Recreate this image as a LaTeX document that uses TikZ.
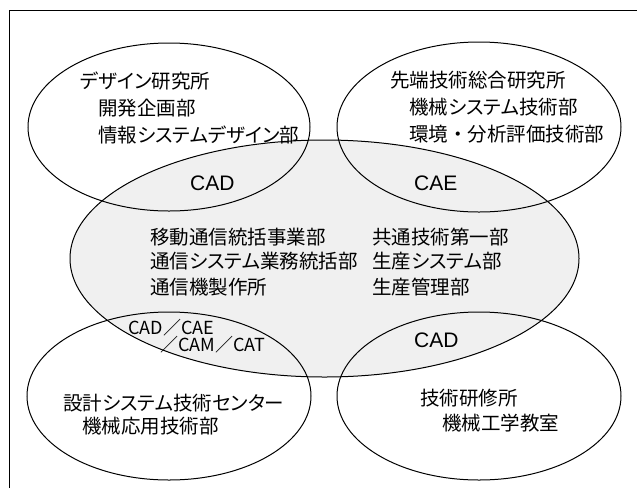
\documentclass[tikz,border=0pt]{standalone}
\usepackage{fontspec}
\newfontfamily\jp[RawFeature=+palt]{Noto Sans CJK JP}
\newfontfamily\jpf{Noto Sans CJK JP}
\newfontfamily\lat{Liberation Sans}
\begin{document}
\begin{tikzpicture}[x=1pt,y=-1pt,
  ring/.style={draw=black,line width=1pt},
  lbl/.style={anchor=west,inner sep=0pt,font=\fontsize{19.5}{19.5}\selectfont\jp},
  lblf/.style={anchor=west,inner sep=0pt,font=\fontsize{19.5}{19.5}\selectfont\jpf},
  tool/.style={anchor=west,inner sep=0pt,font=\fontsize{21}{21}\selectfont\lat},
  toolsm/.style={anchor=west,inner sep=0pt,font=\fontsize{18}{18}\selectfont\jpf}]
\useasboundingbox (0,0) rectangle (637,488);
\fill[white] (0,0) rectangle (637,488);
% frame
\coordinate (fbl) at (9,488);
\coordinate (ftl) at (9,10);
\coordinate (ftr) at (637,10);
\draw[line width=1pt] (fbl) -- (ftl) -- (ftr);
% centre ellipse fill
\coordinate (cC) at (324.5,258.5);
\fill[black!6] (cC) ellipse [x radius=254.5, y radius=118.5];
% ellipses
\coordinate (cTL) at (169,127);
\coordinate (cTR) at (479,127);
\coordinate (cBL) at (169,396);
\coordinate (cBR) at (479,396);
\draw[ring] (cTL) ellipse [x radius=141, y radius=84];
\draw[ring] (cTR) ellipse [x radius=142, y radius=85];
\draw[ring] (cBL) ellipse [x radius=142, y radius=84];
\draw[ring] (cBR) ellipse [x radius=142, y radius=84];
\draw[ring] (cC) ellipse [x radius=254.5, y radius=118.5];
% top-left texts
\node[lbl] (tl1) at (80,81) {デザイン研究所};
\node[lbl] (tl2) at (98,108) {開発企画部};
\node[lbl] (tl3) at (98,135) {情報システムデザイン部};
% top-right texts
\node[lbl] (tr1) at (390,80) {先端技術総合研究所};
\node[lbl] (tr2) at (409,107) {機械システム技術部};
\node[lblf] (tr3) at (409,134) {環境・分析評価技術部};
% centre texts
\node[lbl] (c1) at (150,237) {移動通信統括事業部};
\node[lbl] (c2) at (150,261) {通信システム業務統括部};
\node[lbl] (c3) at (150,287) {通信機製作所};
\node[lbl] (c4) at (372,237) {共通技術第一部};
\node[lbl] (c5) at (372,261) {生産システム部};
\node[lbl] (c6) at (372,287) {生産管理部};
% tools
\node[tool] (t1) at (190,183) {CAD};
\node[tool] (t2) at (414,183) {CAE};
\node[tool] (t3) at (414,340) {CAD};
\node[toolsm] (t4) at (128,328) {CAD／CAE};
\node[toolsm] (t5) at (160,345) {／CAM／CAT};
% bottom-left texts
\node[lbl] (bl1) at (63,403) {設計システム技術センター};
\node[lbl] (bl2) at (82,426) {機械応用技術部};
% bottom-right texts
\node[lbl] (br1) at (420,398) {技術研修所};
\node[lbl] (br2) at (442,423) {機械工学教室};
\end{tikzpicture}
\end{document}
